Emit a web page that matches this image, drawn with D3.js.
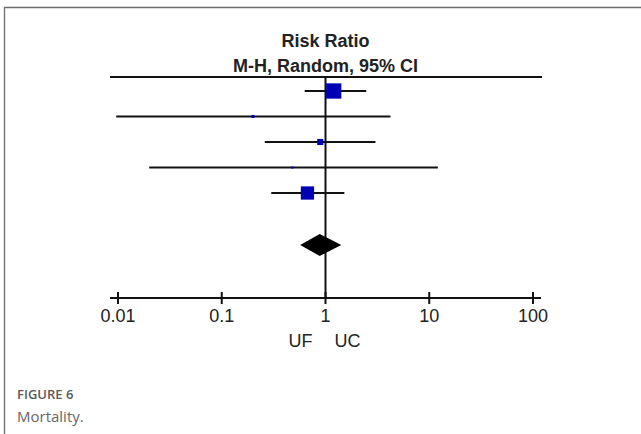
<!DOCTYPE html>
<html>
<head>
<meta charset="utf-8">
<script src="https://cdn.jsdelivr.net/npm/d3@7"></script>
<style>
  body { margin: 0; background: #fff; }
  svg { display: block; }
</style>
</head>
<body>
<div id="chart"></div>
<script>
// study rows (top to bottom), risk ratio with 95% CI, weight %
var studies = [1, 2, 3, 4, 5];
var rr    = [1.20, 0.20, 0.89, 0.48, 0.67];
var lower = [0.63, 0.0096, 0.26, 0.020, 0.30];
var upper = [2.47, 4.23, 3.03, 12.1, 1.52];
var weight = [50.8, 2.0, 8.1, 0.9, 38.1];

// pooled estimate
var pooled = [0.88];
var pooledLower = [0.57];
var pooledUpper = [1.42];

var tickValues = [0.01, 0.1, 1, 10, 100];
var tickLabels = ["0.01", "0.1", "1", "10", "100"];
var favourLeft = "UF";
var favourRight = "UC";

var width = 641, height = 434;

var svg = d3.select("#chart").append("svg")
  .attr("width", width)
  .attr("height", height);

// figure frame (top and left rule)
svg.append("path")
  .attr("d", "M4.5,434 V7.5 H641")
  .attr("fill", "none")
  .attr("stroke", "#6b6b6b")
  .attr("stroke-width", 1.3);

var x = d3.scaleLog().domain([0.01, 100]).range([118, 533]);
var y = d3.scalePoint().domain(studies).range([91, 193]);
var side = d3.scaleSqrt().domain([0, 50.8]).range([0, 15.3]);

var axisY = 298, topY = 77, diamondY = 245;
var revFont = "'Liberation Sans', Arial, sans-serif";

// header
svg.append("text")
  .attr("x", x(1)).attr("y", 47)
  .attr("text-anchor", "middle")
  .style("font", "bold 18px " + revFont)
  .attr("fill", "#222")
  .text("Risk Ratio");
svg.append("text")
  .attr("x", x(1)).attr("y", 72)
  .attr("text-anchor", "middle")
  .style("font", "bold 18px " + revFont)
  .attr("fill", "#222")
  .text("M-H, Random, 95% CI");

svg.append("line")
  .attr("x1", 110).attr("x2", 542)
  .attr("y1", topY).attr("y2", topY)
  .attr("stroke", "#111").attr("stroke-width", 2);

// line of no effect
svg.append("line")
  .attr("x1", x(1)).attr("x2", x(1))
  .attr("y1", topY).attr("y2", axisY)
  .attr("stroke", "#111").attr("stroke-width", 2);

// CI whiskers
svg.selectAll(".ci")
  .data(studies)
  .enter().append("line")
  .attr("class", "ci")
  .attr("x1", function(d, i){ return x(lower[i]); })
  .attr("x2", function(d, i){ return x(upper[i]); })
  .attr("y1", function(d){ return y(d); })
  .attr("y2", function(d){ return y(d); })
  .attr("stroke", "#111").attr("stroke-width", 2);

// weighted squares
svg.selectAll(".est")
  .data(studies)
  .enter().append("rect")
  .attr("class", "est")
  .attr("x", function(d, i){ return x(rr[i]) - side(weight[i]) / 2; })
  .attr("y", function(d, i){ return y(d) - side(weight[i]) / 2; })
  .attr("width", function(d, i){ return side(weight[i]); })
  .attr("height", function(d, i){ return side(weight[i]); })
  .attr("fill", "#0000b4");

// pooled diamond
svg.append("path")
  .attr("d", "M" + x(pooledLower[0]) + "," + diamondY +
    " L" + x(pooled[0]) + "," + (diamondY - 11) +
    " L" + x(pooledUpper[0]) + "," + diamondY +
    " L" + x(pooled[0]) + "," + (diamondY + 11) + " Z")
  .attr("fill", "#000");

// axis
svg.append("line")
  .attr("x1", 110).attr("x2", 541)
  .attr("y1", axisY).attr("y2", axisY)
  .attr("stroke", "#111").attr("stroke-width", 2);

svg.selectAll(".tick")
  .data(tickValues)
  .enter().append("line")
  .attr("class", "tick")
  .attr("x1", function(d){ return x(d); })
  .attr("x2", function(d){ return x(d); })
  .attr("y1", axisY - 6).attr("y2", axisY + 6)
  .attr("stroke", "#111").attr("stroke-width", 2);

svg.selectAll(".tlab")
  .data(tickValues)
  .enter().append("text")
  .attr("class", "tlab")
  .attr("x", function(d){ return x(d); })
  .attr("y", 322)
  .attr("text-anchor", "middle")
  .style("font", "18px " + revFont)
  .attr("fill", "#222")
  .text(function(d, i){ return tickLabels[i]; });

svg.append("text")
  .attr("x", x(1) - 13).attr("y", 347)
  .attr("text-anchor", "end")
  .style("font", "18px " + revFont)
  .attr("fill", "#222")
  .text(favourLeft);
svg.append("text")
  .attr("x", x(1) + 9).attr("y", 347)
  .attr("text-anchor", "start")
  .style("font", "18px " + revFont)
  .attr("fill", "#222")
  .text(favourRight);

// caption
svg.append("text")
  .attr("x", 17).attr("y", 399)
  .style("font", "600 13px 'Open Sans', 'Noto Sans', sans-serif")
  .attr("fill", "#5a5a5a")
  .text("FIGURE 6");
svg.append("text")
  .attr("x", 17).attr("y", 422)
  .style("font", "15px 'Open Sans', 'Noto Sans', sans-serif")
  .attr("fill", "#666")
  .text("Mortality.");
</script>
</body>
</html>
